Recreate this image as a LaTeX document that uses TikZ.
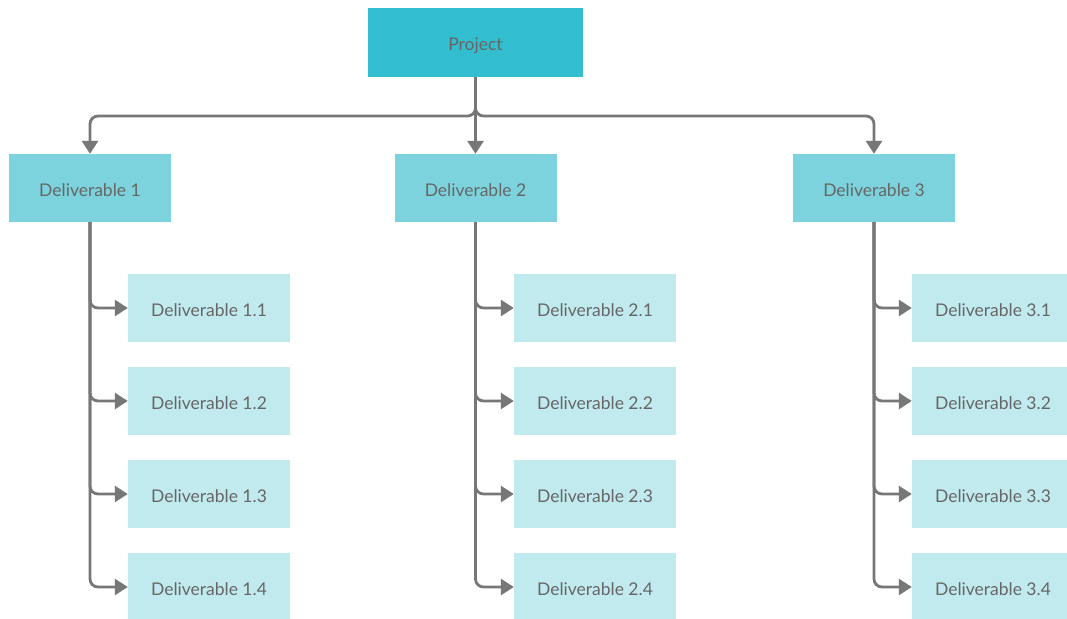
\documentclass[tikz,border=0pt]{standalone}
\usepackage{fontspec}
\setmainfont{Lato}
\usetikzlibrary{arrows.meta}
\definecolor{projc}{HTML}{33BECF}
\definecolor{delc}{HTML}{7DD3DD}
\definecolor{subc}{HTML}{C1EAEE}
\definecolor{txtc}{HTML}{666666}
\definecolor{linec}{HTML}{777777}
\tikzset{
  box/.style={draw=none, inner sep=0pt, minimum width=162pt, minimum height=68pt,
    text=txtc, font=\fontsize{17.5}{20}\selectfont, text height=16.6pt, text depth=0pt},
  projbox/.style={box, fill=projc, minimum width=215pt, minimum height=69pt},
  delbox/.style={box, fill=delc},
  subbox/.style={box, fill=subc},
  conn/.style={draw=linec, line width=2.8pt, rounded corners=8pt,
    -{Triangle[width=16pt,length=13pt]}},
}
\begin{document}
\begin{tikzpicture}[x=1pt,y=-1pt]
\useasboundingbox (0,0) rectangle (1067,618);
\fill[white] (0,0) rectangle (1067,618);
\node[projbox] (P) at (475.5,42.5) {Project};
\node[delbox] (D1) at (90,188) {Deliverable 1};
\node[delbox] (D2) at (475.5,188) {Deliverable 2};
\node[delbox] (D3) at (874,188) {Deliverable 3};
\foreach \c/\x in {1/209,2/595,3/993}{
  \foreach \r/\y in {1/308,2/401,3/494,4/587}{
    \node[subbox] (S\c\r) at (\x,\y) {Deliverable \c.\r};
  }
}
\coordinate (bus) at (475.5,116);
\draw[conn] (P.south) -- (bus) -| (D1.north);
\draw[conn] (P.south) -- (bus) -| (D3.north);
\draw[conn] (P.south) -- (D2.north);
\foreach \c in {1,2,3}{
  \foreach \r in {1,2,3,4}{
    \draw[conn] (D\c.south) |- (S\c\r.west);
  }
}
\end{tikzpicture}
\end{document}
